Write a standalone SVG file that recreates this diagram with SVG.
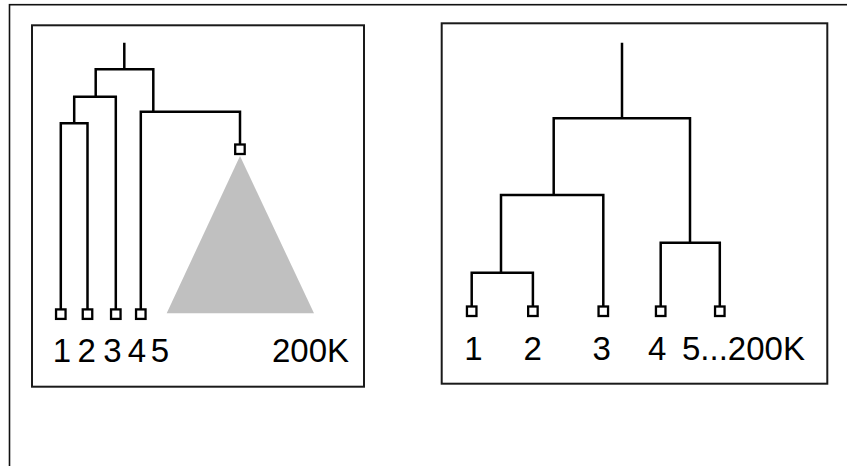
<svg xmlns="http://www.w3.org/2000/svg" width="847" height="466" viewBox="0 0 847 466">
<style>
.frame{fill:none;stroke:#111;stroke-width:1.6}
.box{fill:#fff;stroke:#1a1a1a;stroke-width:2}
.edge{fill:none;stroke:#000;stroke-width:2.5;stroke-linejoin:miter;stroke-linecap:square}
.leaf{fill:#fff;stroke:#000;stroke-width:2.3}
.lbl{font-family:"Liberation Sans",Arial,sans-serif;font-size:33px;fill:#000}
</style>
<rect class="frame" x="9.5" y="4.7" width="900" height="500"/>
<g id="panel-left">
<rect class="box" x="32" y="25.3" width="332" height="361.4"/>
<polygon id="subtree" points="240,156 166.7,313.3 314,313.3" fill="#c0c0c0"/>
<g id="connectors-left">
<path class="edge" d="M124.3 44V69.3M95.7 96.7V69.3H153.3V111.7M74.2 123.3V96.7H115.8V309M60.8 309V123.3H87.5V309M140.8 309V111.7H240V150"/>
</g>
<g id="l-leaf1"><rect class="leaf" x="56.05" y="309.4" width="9.5" height="9.5"/><text class="lbl" x="62" y="361.7" text-anchor="middle">1</text></g>
<g id="l-leaf2"><rect class="leaf" x="82.75" y="309.4" width="9.5" height="9.5"/><text class="lbl" x="86.7" y="361.7" text-anchor="middle">2</text></g>
<g id="l-leaf3"><rect class="leaf" x="111.05" y="309.4" width="9.5" height="9.5"/><text class="lbl" x="112.5" y="361.7" text-anchor="middle">3</text></g>
<g id="l-leaf4"><rect class="leaf" x="136.05" y="309.4" width="9.5" height="9.5"/><text class="lbl" x="137" y="361.7" text-anchor="middle">4</text></g>
<g id="l-leaf5"><text class="lbl" x="160" y="361.7" text-anchor="middle">5</text></g>
<g id="l-clade"><rect class="leaf" x="235.2" y="144.5" width="9.5" height="9.5" fill="none"/><text class="lbl" x="349" y="361.7" text-anchor="end">200K</text></g>
</g>
<g id="panel-right">
<rect class="box" x="441.7" y="23.3" width="385.6" height="360.4"/>
<g id="connectors-right">
<path class="edge" d="M622 44V118.3M501 272.7V195H603.3V306M553.7 195V118.3H690V242.7M471.7 306V272.7H532.9V306M660.7 306V242.7H719.8V306"/>
</g>
<g id="r-leaf1"><rect class="leaf" x="466.95" y="306.5" width="9.5" height="9.5"/><text class="lbl" x="473.5" y="360" text-anchor="middle">1</text></g>
<g id="r-leaf2"><rect class="leaf" x="528.15" y="306.5" width="9.5" height="9.5"/><text class="lbl" x="532.8" y="360" text-anchor="middle">2</text></g>
<g id="r-leaf3"><rect class="leaf" x="598.55" y="306.5" width="9.5" height="9.5"/><text class="lbl" x="601.7" y="360" text-anchor="middle">3</text></g>
<g id="r-leaf4"><rect class="leaf" x="655.95" y="306.5" width="9.5" height="9.5"/><text class="lbl" x="657.3" y="360" text-anchor="middle">4</text></g>
<g id="r-leaf5"><rect class="leaf" x="715.05" y="306.5" width="9.5" height="9.5"/><text class="lbl" x="682" y="360">5...200K</text></g>
</g>
</svg>
